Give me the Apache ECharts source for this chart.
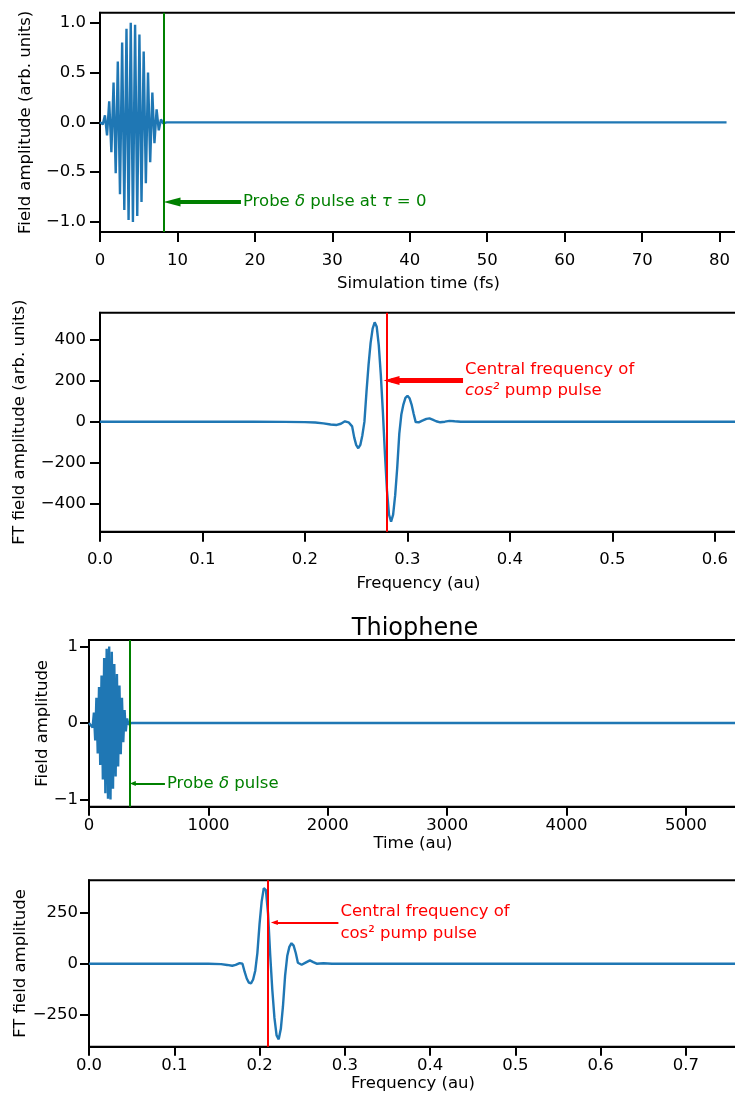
<!DOCTYPE html>
<html>
<head>
<meta charset="utf-8">
<script src="https://cdn.jsdelivr.net/npm/echarts@6/dist/echarts.min.js"></script>
<style>
html,body{margin:0;padding:0;background:#fff;}
#chart{width:735px;height:1097px;}
</style>
</head>
<body>
<div id="chart"></div>
<script>
// ---------- Panel 1: pump field vs simulation time (fs) ----------
const timeFs = [0, 0.36, 0.64, 0.91, 1.19, 1.47, 1.75, 2.03, 2.30, 2.58, 2.86, 3.14, 3.42, 3.69, 3.97, 4.25, 4.53, 4.81, 5.09, 5.36, 5.64, 5.92, 6.20, 6.48, 6.76, 7.03, 7.31, 7.59, 7.87, 8.15, 8.6, 10, 20, 30, 40, 50, 60, 70, 80, 80.9];
const fieldFs = [0, -0.02, 0.07, -0.13, 0.21, -0.30, 0.40, -0.51, 0.61, -0.72, 0.80, -0.88, 0.94, -0.98, 1.0, -1.0, 0.98, -0.94, 0.88, -0.80, 0.71, -0.61, 0.50, -0.40, 0.30, -0.21, 0.13, -0.08, 0.03, -0.01, 0, 0, 0, 0, 0, 0, 0, 0, 0, 0];
const probeFs = 8.2;

// ---------- Panel 2: FT of field (frequency au) ----------
const freq2 = [0, 0.1, 0.15, 0.18, 0.2, 0.21, 0.218, 0.225, 0.231, 0.235, 0.239, 0.2425, 0.246, 0.248, 0.250, 0.252, 0.254, 0.256, 0.258, 0.260, 0.262, 0.264, 0.266, 0.268, 0.270, 0.272, 0.274, 0.276, 0.278, 0.280, 0.282, 0.284, 0.286, 0.288, 0.290, 0.292, 0.294, 0.296, 0.298, 0.300, 0.302, 0.304, 0.306, 0.308, 0.311, 0.315, 0.3185, 0.3215, 0.3245, 0.328, 0.332, 0.3365, 0.341, 0.346, 0.352, 0.38, 0.45, 0.55, 0.63];
const ft2 = [0, 0, 0, -1, -2, -4, -8, -14, -16, -10, 2, -3, -23, -77, -115, -130, -114, -66, 0, 146, 277, 385, 456, 487, 465, 374, 228, 47, -158, -338, -456, -490, -455, -360, -225, -60, 35, 84, 117, 127, 115, 84, 39, -2, -3, 6, 14, 16, 10, 2, -3, 0, 4, 2, 0, 0, 0, 0, 0];
const central2 = 0.2766;

// ---------- Panel 3: Thiophene field vs time (au) ----------
const timeAu = [0, 10, 30, 41, 52, 62, 73, 84, 94, 105, 116, 127, 137, 148, 159, 169, 180, 191, 201, 212, 223, 234, 244, 255, 266, 276, 287, 298, 308, 319, 330, 356, 1000, 2000, 3000, 4000, 5000, 5500];
const fieldAu = [0, 0, -0.06, 0.135, -0.23, 0.33, -0.40, 0.47, -0.55, 0.62, -0.74, 0.85, -0.92, 0.97, -0.99, 1.0, -1.0, 0.93, -0.86, 0.77, -0.70, 0.64, -0.57, 0.49, -0.41, 0.33, -0.25, 0.17, -0.11, 0.06, -0.02, 0, 0, 0, 0, 0, 0, 0];
const probeAu = 342;

// ---------- Panel 4: Thiophene FT ----------
const freq4 = [0, 0.1, 0.14, 0.155, 0.162, 0.168, 0.172, 0.1767, 0.1800, 0.1825, 0.1850, 0.1875, 0.1900, 0.1925, 0.1950, 0.1975, 0.2000, 0.2025, 0.2050, 0.2075, 0.2100, 0.2125, 0.2150, 0.2175, 0.2200, 0.2225, 0.2250, 0.2275, 0.2300, 0.2325, 0.2350, 0.2375, 0.2400, 0.2425, 0.2450, 0.2494, 0.2540, 0.2591, 0.2630, 0.267, 0.275, 0.285, 0.30, 0.45, 0.6, 0.77];
const ft4 = [0, 0, 0, -2, -6, -10, -6, 3, 0, -39, -72, -92, -96, -77, -34, 53, 193, 302, 368, 358, 244, 45, -128, -264, -349, -368, -317, -207, -58, 37, 82, 100, 88, 52, 5, -5, 5, 16, 8, 0, 2, 0, 0, 0, 0, 0];
const central4 = 0.2133;

// ---------- Ticks ----------
const x1Ticks = [0, 10, 20, 30, 40, 50, 60, 70, 80];
const x1Labels = ['0', '10', '20', '30', '40', '50', '60', '70', '80'];
const y1Ticks = [-1, -0.5, 0, 0.5, 1];
const y1Labels = ['\u22121.0', '\u22120.5', '0.0', '0.5', '1.0'];
const x2Ticks = [0, 0.1, 0.2, 0.3, 0.4, 0.5, 0.6];
const x2Labels = ['0.0', '0.1', '0.2', '0.3', '0.4', '0.5', '0.6'];
const y2Ticks = [-400, -200, 0, 200, 400];
const y2Labels = ['\u2212400', '\u2212200', '0', '200', '400'];
const x3Ticks = [0, 1000, 2000, 3000, 4000, 5000];
const x3Labels = ['0', '1000', '2000', '3000', '4000', '5000'];
const y3Ticks = [-1, 0, 1];
const y3Labels = ['\u22121', '0', '1'];
const x4Ticks = [0, 0.1, 0.2, 0.3, 0.4, 0.5, 0.6, 0.7];
const x4Labels = ['0.0', '0.1', '0.2', '0.3', '0.4', '0.5', '0.6', '0.7'];
const y4Ticks = [-250, 0, 250];
const y4Labels = ['\u2212250', '0', '250'];

const BLUE = '#1f77b4', GREEN = '#008000', RED = '#ff0000';
const FONT = 'DejaVu Sans';
const FS = 16.5;

// axis extents and grid geometry
const X_EXT = [[0, 82.25], [0, 0.6215], [0, 5427], [0, 0.760]];
const Y_EXT = [[-1.1, 1.1], [-539, 534], [-1.095, 1.085], [-404, 406]];
const GRIDS = [
  {left: 100, top: 12.7, width: 637, height: 219.3},
  {left: 100, top: 312.7, width: 637, height: 219},
  {left: 89, top: 640, width: 648, height: 166.7},
  {left: 89, top: 880.3, width: 648, height: 166.4}
];

function lab(ticks, labels, v) {
  const k = ticks.findIndex(t => Math.abs(t - v) < 1e-9);
  return k >= 0 ? labels[k] : '';
}
function pairs(xs, ys) { return xs.map((x, k) => [x, ys[k]]); }
// data-units per pixel on x for grid i (used to put the arrow tip, not its centre, on the target line)
function xPerPx(i) { return (X_EXT[i][1] - X_EXT[i][0]) / GRIDS[i].width; }

function makeX(i, ticks, labels, name, nameGap, margin, tickLen) {
  return {
    type: 'value', gridIndex: i, min: X_EXT[i][0], max: X_EXT[i][1], position: 'bottom',
    axisLine: {show: true, onZero: false, lineStyle: {color: '#000', width: 2}},
    axisTick: {show: true, inside: false, length: tickLen, lineStyle: {color: '#000', width: 2}, customValues: ticks},
    axisLabel: {show: true, margin: margin, color: '#000', fontSize: FS, fontFamily: FONT, customValues: ticks,
      formatter: v => lab(ticks, labels, v)},
    splitLine: {show: false},
    name: name, nameLocation: 'middle', nameGap: nameGap, nameMoveOverlap: false,
    nameTextStyle: {color: '#000', fontSize: FS, fontFamily: FONT, lineHeight: 20}
  };
}
function makeY(i, ticks, labels, name, nameGap, margin, tickLen) {
  return {
    type: 'value', gridIndex: i, min: Y_EXT[i][0], max: Y_EXT[i][1], position: 'left',
    axisLine: {show: true, onZero: false, lineStyle: {color: '#000', width: 2}},
    axisTick: {show: true, inside: false, length: tickLen, lineStyle: {color: '#000', width: 2}, customValues: ticks},
    axisLabel: {show: true, margin: margin, color: '#000', fontSize: FS, fontFamily: FONT, customValues: ticks,
      formatter: v => lab(ticks, labels, v)},
    splitLine: {show: false},
    name: name, nameLocation: 'middle', nameGap: nameGap, nameMoveOverlap: false,
    nameTextStyle: {color: '#000', fontSize: FS, fontFamily: FONT, lineHeight: 20}
  };
}

function vline(x, color) {
  return {xAxis: x, symbol: 'none', lineStyle: {color: color, width: 2, type: 'solid'}};
}
function arrow(gi, x0, y0, x1, y1, color, width, head) {
  const tip = x1 + (head[1] / 2) * xPerPx(gi);
  return [
    {coord: [x0, y0], symbol: 'none', lineStyle: {color: color, width: width, type: 'solid'}},
    {coord: [tip, y1], symbol: 'triangle', symbolSize: head}
  ];
}
function note(x, y, text, color, rich, lh) {
  return {
    silent: true, animation: false, symbol: 'circle', symbolSize: 0,
    data: [{coord: [x, y], itemStyle: {color: 'transparent'},
      label: {show: true, position: 'right', distance: 2, formatter: text, color: color,
        fontSize: FS, fontFamily: FONT, lineHeight: lh, rich: rich}}]
  };
}

const gridBase = {show: true, borderColor: '#000', borderWidth: 2, backgroundColor: 'transparent', containLabel: false, outerBoundsMode: 'none'};
const LW = 2.4;

const option = {
  animation: false,
  textStyle: {fontFamily: FONT},
  title: {text: 'Thiophene', left: 415, top: 617, textAlign: 'center', padding: 0,
    textStyle: {fontSize: 24, fontWeight: 'normal', color: '#000', fontFamily: FONT}},
  grid: GRIDS.map(g => Object.assign({}, g, gridBase)),
  xAxis: [
    makeX(0, x1Ticks, x1Labels, 'Simulation time (fs)', 42, 20, 10),
    makeX(1, x2Ticks, x2Labels, 'Frequency (au)', 42, 20, 10),
    makeX(2, x3Ticks, x3Labels, 'Time (au)', 27, 11, 9),
    makeX(3, x4Ticks, x4Labels, 'Frequency (au)', 27, 11, 9)
  ],
  yAxis: [
    makeY(0, y1Ticks, y1Labels, 'Field amplitude (arb. units)', 64.5, 14, 10),
    makeY(1, y2Ticks, y2Labels, 'FT field amplitude (arb. units)', 70, 14, 10),
    makeY(2, y3Ticks, y3Labels, 'Field amplitude', 36, 11, 9),
    makeY(3, y4Ticks, y4Labels, 'FT field amplitude', 58, 11, 9)
  ],
  series: [
    {
      type: 'line', xAxisIndex: 0, yAxisIndex: 0, data: pairs(timeFs, fieldFs),
      showSymbol: false, symbol: 'none', silent: true, lineStyle: {color: BLUE, width: LW},
      markLine: {silent: true, animation: false, symbol: ['none', 'none'], label: {show: false},
        data: [vline(probeFs, GREEN), arrow(0, 18.2, -0.8, probeFs, -0.8, GREEN, 4, [9, 17])]},
      markPoint: note(18.2, -0.8, 'Probe {i|\u03b4} pulse at {i|\u03c4} = 0', GREEN,
        {i: {fontStyle: 'italic', fontSize: FS, fontFamily: FONT, color: GREEN}}, 20)
    },
    {
      type: 'line', xAxisIndex: 1, yAxisIndex: 1, data: pairs(freq2, ft2),
      showSymbol: false, symbol: 'none', silent: true, lineStyle: {color: BLUE, width: LW},
      markLine: {silent: true, animation: false, symbol: ['none', 'none'], label: {show: false},
        data: [vline(central2, RED), arrow(1, 0.3542, 202, central2, 202, RED, 5, [9, 16])]},
      markPoint: note(0.3542, 202, 'Central frequency of\n{it|cos\u00b2} pump pulse', RED,
        {it: {fontStyle: 'italic', fontSize: FS, fontFamily: FONT, color: RED, lineHeight: 21.5}}, 21.5)
    },
    {
      type: 'line', xAxisIndex: 2, yAxisIndex: 2, data: pairs(timeAu, fieldAu),
      showSymbol: false, symbol: 'none', silent: true, lineStyle: {color: BLUE, width: LW},
      markLine: {silent: true, animation: false, symbol: ['none', 'none'], label: {show: false},
        data: [vline(probeAu, GREEN), arrow(2, 636, -0.79, probeAu, -0.79, GREEN, 2, [5, 6])]},
      markPoint: note(636, -0.79, 'Probe {i|\u03b4} pulse', GREEN,
        {i: {fontStyle: 'italic', fontSize: FS, fontFamily: FONT, color: GREEN}}, 20)
    },
    {
      type: 'line', xAxisIndex: 3, yAxisIndex: 3, data: pairs(freq4, ft4),
      showSymbol: false, symbol: 'none', silent: true, lineStyle: {color: BLUE, width: LW},
      markLine: {silent: true, animation: false, symbol: ['none', 'none'], label: {show: false},
        data: [vline(central4, RED), arrow(3, 0.2925, 200, central4, 200, RED, 2, [5, 7])]},
      markPoint: note(0.2925, 200, 'Central frequency of\ncos\u00b2 pump pulse', RED, {}, 22)
    }
  ]
};

const chart = echarts.init(document.getElementById('chart'), null, {renderer: 'canvas'});
chart.setOption(option);
</script>
</body>
</html>
